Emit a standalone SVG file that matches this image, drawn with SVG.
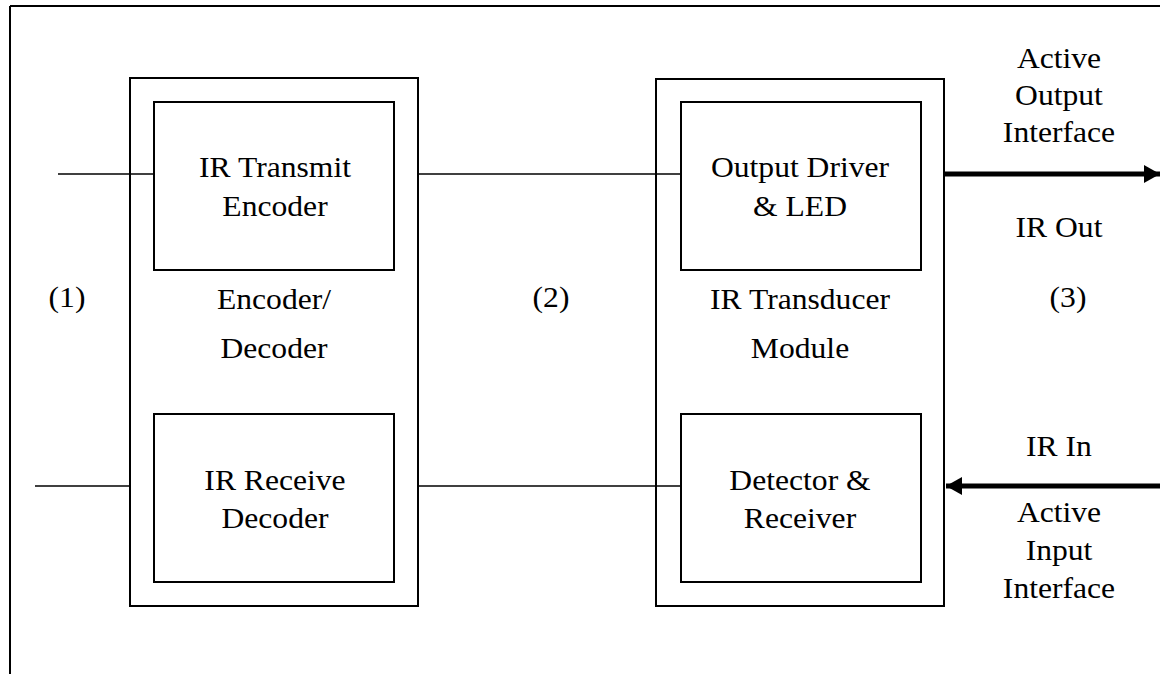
<svg xmlns="http://www.w3.org/2000/svg" width="1160" height="674" viewBox="0 0 1160 674">
<style>
.box{fill:none;stroke:#000;stroke-width:2}
.wire{fill:none;stroke:#000;stroke-width:1.5}
.thick{fill:none;stroke:#000;stroke-width:5}
.t{font-family:"Liberation Serif","Times New Roman",serif;font-size:29px;fill:#000;text-anchor:middle}
</style>
<defs>
<marker id="ah" markerUnits="userSpaceOnUse" markerWidth="18" markerHeight="20" refX="16" refY="9" orient="auto">
<polygon points="0,0 16,9 0,18" fill="#000"/>
</marker>
</defs>
<rect width="1160" height="674" fill="#fff"/>
<g id="frame">
<line x1="10" y1="6" x2="1160" y2="6" class="box"/>
<line x1="10" y1="6" x2="10" y2="674" class="box"/>
</g>
<g id="encdec">
<rect x="130" y="78" width="288" height="528" class="box"/>
<text class="t" transform="translate(274,309) scale(1.09,1)">Encoder/</text>
<text class="t" transform="translate(274,358) scale(1.09,1)">Decoder</text>
</g>
<g id="tx-encoder">
<rect x="154" y="102" width="240" height="168" class="box"/>
<text class="t" transform="translate(275,177) scale(1.09,1)">IR Transmit</text>
<text class="t" transform="translate(275,216) scale(1.09,1)">Encoder</text>
</g>
<g id="rx-decoder">
<rect x="154" y="414" width="240" height="168" class="box"/>
<text class="t" transform="translate(275,490) scale(1.09,1)">IR Receive</text>
<text class="t" transform="translate(275,528) scale(1.09,1)">Decoder</text>
</g>
<g id="transducer">
<rect x="656" y="79" width="288" height="527" class="box"/>
<text class="t" transform="translate(800,309) scale(1.09,1)">IR Transducer</text>
<text class="t" transform="translate(800,358) scale(1.09,1)">Module</text>
</g>
<g id="driver">
<rect x="681" y="102" width="240" height="168" class="box"/>
<text class="t" transform="translate(800,177) scale(1.09,1)">Output Driver</text>
<text class="t" transform="translate(800,216) scale(1.09,1)">&amp; LED</text>
</g>
<g id="detector">
<rect x="681" y="414" width="240" height="168" class="box"/>
<text class="t" transform="translate(800,490) scale(1.09,1)">Detector &amp;</text>
<text class="t" transform="translate(800,528) scale(1.09,1)">Receiver</text>
</g>
<g id="labels">
<text class="t" transform="translate(67,307) scale(1.09,1)">(1)</text>
<text class="t" transform="translate(551,307) scale(1.09,1)">(2)</text>
<text class="t" transform="translate(1068,307) scale(1.09,1)">(3)</text>
<text class="t" transform="translate(1059,68) scale(1.09,1)">Active</text>
<text class="t" transform="translate(1059,105) scale(1.09,1)">Output</text>
<text class="t" transform="translate(1059,142) scale(1.09,1)">Interface</text>
<text class="t" transform="translate(1059,237) scale(1.09,1)">IR Out</text>
<text class="t" transform="translate(1059,456) scale(1.09,1)">IR In</text>
<text class="t" transform="translate(1059,522) scale(1.09,1)">Active</text>
<text class="t" transform="translate(1059,560) scale(1.09,1)">Input</text>
<text class="t" transform="translate(1059,598) scale(1.09,1)">Interface</text>
</g>
<g id="connectors">
<line x1="58" y1="174" x2="154" y2="174" class="wire"/>
<line x1="418" y1="174" x2="681" y2="174" class="wire"/>
<line x1="35" y1="486" x2="130" y2="486" class="wire"/>
<line x1="418" y1="486" x2="681" y2="486" class="wire"/>
<line x1="945" y1="174" x2="1160" y2="174" class="thick" marker-end="url(#ah)"/>
<line x1="1160" y1="486" x2="946" y2="486" class="thick" marker-end="url(#ah)"/>
</g>
</svg>
